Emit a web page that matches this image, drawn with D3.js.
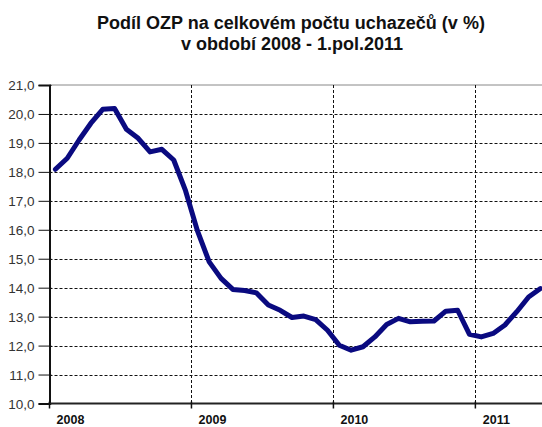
<!DOCTYPE html>
<html>
<head>
<meta charset="utf-8">
<script src="https://cdn.jsdelivr.net/npm/d3@7"></script>
<style>
  body { margin: 0; background: #fff; overflow: hidden; }
  svg { display: block; }
</style>
</head>
<body>
<div id="chart"></div>
<script>
// monthly share, Jan 2008 .. Jun 2011
const years = ["2008", "2009", "2010", "2011"];
const values = [
  18.09, 18.47, 19.10, 19.68, 20.16, 20.19, 19.47, 19.16, 18.69, 18.78, 18.41, 17.35,
  15.97, 14.89, 14.32, 13.94, 13.90, 13.82, 13.40, 13.22, 12.97, 13.02, 12.90, 12.53,
  12.01, 11.84, 11.96, 12.30, 12.73, 12.94, 12.82, 12.84, 12.85, 13.19, 13.22, 12.39,
  12.30, 12.42, 12.71, 13.17, 13.68, 13.97
];
const yTicks = [10, 11, 12, 13, 14, 15, 16, 17, 18, 19, 20, 21];

const width = 542, height = 427;
const plotLeft = 49.5, plotTop = 85, plotBottom = 403.5;

const svg = d3.select("#chart").append("svg")
  .attr("width", width)
  .attr("height", height);

// x: month index, plot continues past the right edge (clipped)
const x = d3.scaleLinear().domain([0, 42]).range([plotLeft, plotLeft + 42 * 11.83]);
const y = d3.scaleLinear().domain([10, 21]).range([plotBottom, plotTop]);

// title
svg.append("text")
  .attr("x", 291).attr("y", 29)
  .attr("text-anchor", "middle")
  .style("font", "bold 18px 'Liberation Sans', Arial, sans-serif")
  .attr("fill", "#111")
  .text("Podíl OZP na celkovém počtu uchazečů (v %)");
svg.append("text")
  .attr("x", 292).attr("y", 50)
  .attr("text-anchor", "middle")
  .style("font", "bold 18px 'Liberation Sans', Arial, sans-serif")
  .attr("fill", "#111")
  .text("v období 2008 - 1.pol.2011");

// plot top border
svg.append("line")
  .attr("x1", plotLeft).attr("x2", width)
  .attr("y1", y(21)).attr("y2", y(21))
  .attr("stroke", "#888").attr("stroke-width", 1);

// horizontal dashed grid
svg.append("g")
  .selectAll("line")
  .data(yTicks.filter(d => d > 10 && d < 21))
  .join("line")
  .attr("x1", plotLeft).attr("x2", width)
  .attr("y1", d => Math.round(y(d)) + 0.5).attr("y2", d => Math.round(y(d)) + 0.5)
  .attr("stroke", "#111").attr("stroke-width", 1)
  .attr("stroke-dasharray", "3,2");

// vertical dashed year lines
svg.append("g")
  .selectAll("line")
  .data([12, 24, 36])
  .join("line")
  .attr("x1", d => Math.round(x(d)) + 0.5).attr("x2", d => Math.round(x(d)) + 0.5)
  .attr("y1", plotTop).attr("y2", plotBottom)
  .attr("stroke", "#111").attr("stroke-width", 1)
  .attr("stroke-dasharray", "3,2");

// y axis
const yAxis = svg.append("g")
  .attr("transform", `translate(${plotLeft},0)`)
  .call(d3.axisLeft(y).tickValues(yTicks).tickSize(11).tickPadding(4)
    .tickFormat(d => d3.format(".1f")(d).replace(".", ",")));
yAxis.select(".domain").attr("stroke", "#111").attr("stroke-width", 2);
yAxis.selectAll(".tick line").attr("stroke", "#111").attr("x2", -11).attr("x1", 2);
yAxis.selectAll(".tick text")
  .style("font", "13.5px 'Liberation Sans', Arial, sans-serif")
  .attr("fill", "#333").attr("dy", "0.36em");

// x axis with year ticks
const xAxis = svg.append("g")
  .attr("transform", `translate(0,${plotBottom})`);
xAxis.append("line")
  .attr("x1", plotLeft - 1).attr("x2", width)
  .attr("stroke", "#222").attr("stroke-width", 2);
xAxis.selectAll("line.tk")
  .data([0, 12, 24, 36])
  .join("line")
  .attr("class", "tk")
  .attr("x1", d => x(d)).attr("x2", d => x(d))
  .attr("y1", -2).attr("y2", 5)
  .attr("stroke", "#111").attr("stroke-width", 1.5);
xAxis.selectAll("text")
  .data(years)
  .join("text")
  .attr("x", (d, i) => x(i * 12) + 21)
  .attr("y", 20.5)
  .attr("text-anchor", "middle")
  .style("font", "bold 12.5px 'Liberation Sans', Arial, sans-serif")
  .attr("fill", "#111")
  .text(d => d);

// data line
const line = d3.line()
  .x((d, i) => x(i + 0.5))
  .y(d => y(d));
svg.append("path")
  .datum(values)
  .attr("d", line)
  .attr("fill", "none")
  .attr("stroke", "#0a0a80")
  .attr("stroke-width", 5)
  .attr("stroke-linejoin", "round")
  .attr("stroke-linecap", "round");
</script>
</body>
</html>
